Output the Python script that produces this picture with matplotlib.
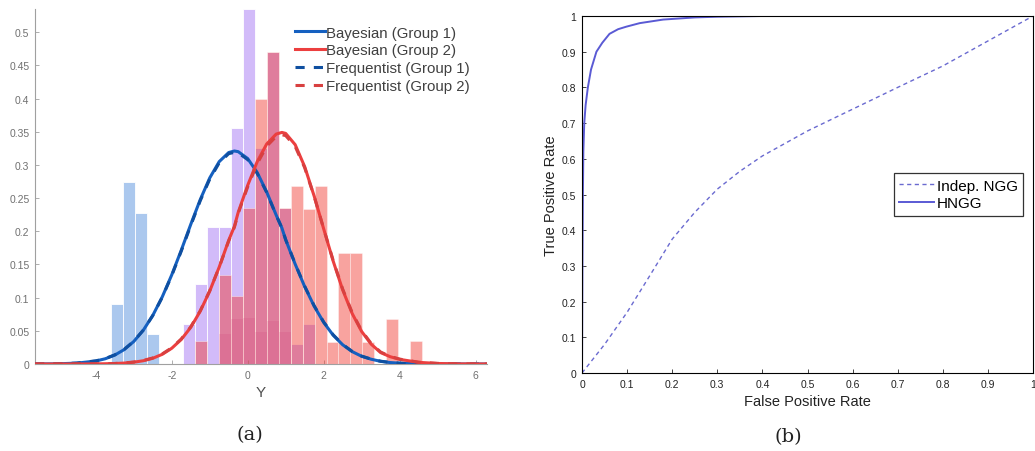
import matplotlib
matplotlib.use("Agg")
import matplotlib.pyplot as plt

# ---------------- data: panel (a) ----------------
bin_edges = [-3.595, -3.28, -2.965, -2.65, -2.335, -2.02, -1.705, -1.39, -1.075, -0.76,
             -0.445, -0.13, 0.185, 0.5, 0.815, 1.13, 1.445, 1.76, 2.075, 2.39,
             2.705, 3.02, 3.335, 3.65, 3.965, 4.28, 4.595]
# heights per bin (26 bins)
hist_blue = [0.09, 0.275, 0.228, 0.045, 0, 0, 0, 0, 0, 0, 0, 0, 0,
             0, 0, 0, 0, 0, 0, 0, 0, 0, 0, 0, 0, 0]
hist_purple = [0, 0, 0, 0, 0, 0, 0.06, 0.12, 0.207, 0.207, 0.355, 0.535, 0.325,
               0.47, 0.235, 0.03, 0.06, 0, 0, 0, 0, 0, 0, 0, 0, 0]
hist_red = [0, 0, 0, 0, 0, 0, 0, 0.035, 0, 0.134, 0.1025, 0.235, 0.40,
            0.47, 0.235, 0.268, 0.234, 0.268, 0.033, 0.167, 0.167, 0.033, 0, 0.0675, 0, 0.034]
hist_dark = [0, 0, 0, 0, 0, 0, 0, 0, 0, 0.045, 0.0675, 0.07, 0.048,
             0.065, 0.048, 0, 0, 0, 0, 0, 0, 0, 0, 0, 0, 0]

y_grid = [-5.6, -5.5, -5.0, -4.5, -4.0, -3.75, -3.5, -3.25, -3.0, -2.75, -2.5, -2.25, -2.0,
          -1.75, -1.5, -1.25, -1.0, -0.75, -0.5, -0.35, -0.25, 0.0, 0.25, 0.5, 0.75,
          0.9, 1.0, 1.25, 1.5, 1.75, 2.0, 2.25, 2.5, 2.75, 3.0, 3.25, 3.5, 3.75, 4.0,
          4.5, 5.0, 5.5, 6.3]
bayes_g1 = [0.0, 0.0001, 0.0003, 0.0013, 0.0045, 0.0079, 0.0134, 0.0218, 0.0339, 0.0508, 0.0731,
            0.1011, 0.1343, 0.1714, 0.2103, 0.2477, 0.2804, 0.3050, 0.3187, 0.321, 0.3200,
            0.3096, 0.2886, 0.2592, 0.2244, 0.205, 0.1872, 0.1505, 0.1166, 0.0871, 0.0627,
            0.0434, 0.0290, 0.0187, 0.0116, 0.0072, 0.0040, 0.0022, 0.0012, 0.0003, 0.0001,
            0.0, 0.0]
bayes_g2 = [0.0, 0.0, 0.0, 0.00003, 0.0002, 0.0004, 0.0007, 0.0014, 0.0027, 0.0049, 0.0086,
            0.0146, 0.0237, 0.0369, 0.0552, 0.0795, 0.1099, 0.1461, 0.1864, 0.2075, 0.2286,
            0.2693, 0.3049, 0.3316, 0.3465, 0.349, 0.3475, 0.3305, 0.2974, 0.2530, 0.2037,
            0.1551, 0.1117, 0.0761, 0.0490, 0.0299, 0.0172, 0.0110, 0.0070, 0.0025, 0.0008,
            0.0002, 0.0]
freq_g1 = [0.0, 0.0001, 0.0003, 0.0014, 0.0047, 0.0082, 0.0138, 0.0222, 0.0343, 0.0510, 0.0730,
           0.1005, 0.1333, 0.1700, 0.2088, 0.2460, 0.2786, 0.3032, 0.3170, 0.3190, 0.3182,
           0.3080, 0.2873, 0.2585, 0.2240, 0.2050, 0.1873, 0.1510, 0.1173, 0.0878, 0.0633,
           0.0440, 0.0295, 0.0190, 0.0119, 0.0074, 0.0042, 0.0023, 0.0013, 0.0004, 0.0001,
           0.0, 0.0]
freq_g2 = [0.0, 0.0, 0.0, 0.00004, 0.0002, 0.0005, 0.0008, 0.0016, 0.0030, 0.0053, 0.0091,
           0.0152, 0.0244, 0.0377, 0.0560, 0.0802, 0.1103, 0.1460, 0.1855, 0.2062, 0.2270,
           0.2670, 0.3020, 0.3282, 0.3430, 0.3455, 0.3442, 0.3278, 0.2958, 0.2525, 0.2040,
           0.1560, 0.1130, 0.0775, 0.0502, 0.0309, 0.0180, 0.0115, 0.0074, 0.0027, 0.0009,
           0.0002, 0.0]

# ---------------- data: panel (b) ----------------
hngg_fpr = [0, 0.001, 0.002, 0.003, 0.005, 0.008, 0.013, 0.02, 0.032, 0.045, 0.061, 0.08,
            0.098, 0.128, 0.18, 0.25, 0.3, 0.4, 1.0]
hngg_tpr = [0, 0.3, 0.5, 0.62, 0.7, 0.75, 0.8, 0.85, 0.9, 0.925, 0.95, 0.963, 0.97, 0.98,
            0.99, 0.996, 0.998, 1.0, 1.0]
indep_fpr = [0, 0.05, 0.1, 0.15, 0.2, 0.25, 0.3, 0.35, 0.4, 0.5, 0.6, 0.7, 0.8, 0.9, 1.0]
indep_tpr = [0, 0.08, 0.17, 0.272, 0.375, 0.45, 0.515, 0.565, 0.608, 0.678, 0.739, 0.8,
             0.86, 0.93, 1.0]

plt.rcParams['font.family'] = ['Liberation Sans', 'DejaVu Sans']

fig = plt.figure(figsize=(10.35, 4.52), dpi=100)

# ---------------- panel (a) ----------------
ax = fig.add_axes([35/1035, (452-365)/452, (487-35)/1035, (365-10)/452])
lefts = bin_edges[:-1]
widths = [bin_edges[i+1] - bin_edges[i] for i in range(len(bin_edges)-1)]
ax.bar(lefts, hist_blue, width=widths, align='edge', color='#abc8ee',
       edgecolor='white', linewidth=0.6, zorder=1)
ax.bar(lefts, hist_purple, width=widths, align='edge', color='#d2bbf9',
       edgecolor='white', linewidth=0.6, zorder=1)
ax.bar(lefts, hist_red, width=widths, align='edge', color=(0.94, 0.2, 0.17), alpha=0.45,
       edgecolor='white', linewidth=0.6, zorder=2)
ax.bar(lefts, hist_dark, width=widths, align='edge', color=(0.8, 0.15, 0.4), alpha=0.13,
       edgecolor='none', linewidth=0, zorder=2)

blue_c = '#1560c0'
red_c = '#ec3f3f'
ax.plot(y_grid, bayes_g1, color=blue_c, lw=2.2, zorder=4, label='Bayesian (Group 1)')
ax.plot(y_grid, bayes_g2, color=red_c, lw=2.2, zorder=5, label='Bayesian (Group 2)')
ax.plot(y_grid, freq_g1, color='#0f4fa0', lw=2.2, ls=(0, (3, 3)), zorder=4,
        label='Frequentist (Group 1)')
ax.plot(y_grid, freq_g2, color='#d84040', lw=2.2, ls=(0, (3, 3)), zorder=5,
        label='Frequentist (Group 2)')

ax.set_xlim(-5.6, 6.3)
ax.set_ylim(0, 0.535)
ax.set_xticks([-4, -2, 0, 2, 4, 6])
ax.set_xticklabels(['-4', '-2', '0', '2', '4', '6'])
yt = [0, 0.05, 0.1, 0.15, 0.2, 0.25, 0.3, 0.35, 0.4, 0.45, 0.5]
ax.set_yticks(yt)
ax.set_yticklabels(['0', '0.05', '0.1', '0.15', '0.2', '0.25', '0.3', '0.35', '0.4', '0.45', '0.5'])
for s in ['top', 'right']:
    ax.spines[s].set_visible(False)
for s in ['left', 'bottom']:
    ax.spines[s].set_color('#a0a0a0')
    ax.spines[s].set_linewidth(0.8)
ax.tick_params(direction='in', length=3, width=0.6, colors='#a0a0a0',
               labelcolor='#707070', labelsize=7.5, pad=4)
ax.set_xlabel('Y', fontsize=11, color='#505050', labelpad=4)
leg = ax.legend(loc='upper right', bbox_to_anchor=(0.976, 0.97), frameon=False, fontsize=10.8,
                handlelength=2.0, handletextpad=0.1, labelspacing=0.25, borderaxespad=0.0)
for t in leg.get_texts():
    t.set_color('#404040')

fig.text(250/1035, 1 - 435/452, '(a)', fontsize=14, family='DejaVu Serif',
         ha='center', va='center', color='#222222')

# ---------------- panel (b) ----------------
bx = fig.add_axes([582/1035, (452-374)/452, (1033-582)/1035, (374-17)/452])
roc_c = '#5a5ad4'
bx.plot(indep_fpr, indep_tpr, color='#6a6ad0', lw=1.0, ls=(0, (3, 2.5)), label='Indep. NGG')
bx.plot(hngg_fpr, hngg_tpr, color=roc_c, lw=1.4, label='HNGG')
bx.set_xlim(0, 1)
bx.set_ylim(0, 1)
ticks = [0, 0.1, 0.2, 0.3, 0.4, 0.5, 0.6, 0.7, 0.8, 0.9, 1]
tlabels = ['0', '0.1', '0.2', '0.3', '0.4', '0.5', '0.6', '0.7', '0.8', '0.9', '1']
bx.set_xticks(ticks)
bx.set_xticklabels(tlabels)
bx.set_yticks(ticks)
bx.set_yticklabels(tlabels)
bx.tick_params(direction='in', length=3, width=0.6, labelsize=7.5, colors='#222222', pad=4)
for s in bx.spines.values():
    s.set_linewidth(0.8)
bx.set_xlabel('False Positive Rate', fontsize=10.5, labelpad=4, color='#222222')
bx.set_ylabel('True Positive Rate', fontsize=10.5, labelpad=3, color='#222222')
leg2 = bx.legend(loc='center right', bbox_to_anchor=(0.978, 0.5), fontsize=11,
                 frameon=True, fancybox=False, edgecolor='#333333', framealpha=1,
                 handlelength=2.3, handletextpad=0.15, labelspacing=0.25, borderpad=0.35,
                 borderaxespad=0.0)
leg2.get_frame().set_linewidth(0.9)

fig.text(788/1035, 1 - 437/452, '(b)', fontsize=14, family='DejaVu Serif',
         ha='center', va='center', color='#222222')

fig.savefig('out.png', dpi=100)
